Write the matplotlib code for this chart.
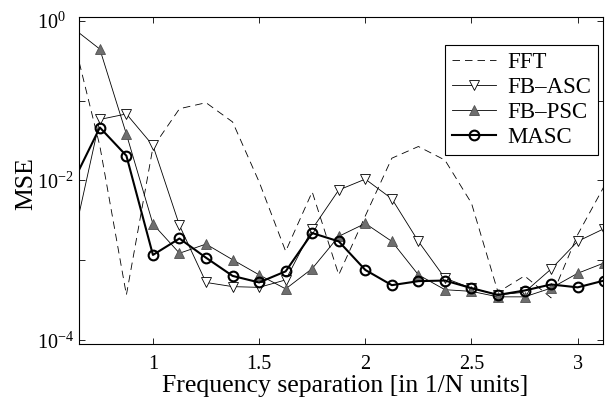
import numpy as np
import matplotlib.pyplot as plt

plt.rcParams['font.family'] = ['Liberation Serif', 'DejaVu Serif']
plt.rcParams['mathtext.fontset'] = 'custom'
plt.rcParams['mathtext.rm'] = 'Liberation Serif'

# frequency separation (1/N units)
sep = [0.625, 0.75, 0.875, 1.0, 1.125, 1.25, 1.375, 1.5, 1.625, 1.75, 1.875,
       2.0, 2.125, 2.25, 2.375, 2.5, 2.625, 2.75, 2.875, 3.0, 3.125]

mse_fft = [0.6, 0.027, 0.00037, 0.026, 0.079, 0.094, 0.054, 0.0096, 0.0013,
           0.0072, 0.00066, 0.0036, 0.019, 0.0266, 0.018, 0.0052, 0.0004,
           0.00064, 0.00034, 0.0021, 0.0085]
mse_asc = [0.0018, 0.058, 0.068, 0.0274, 0.00274, 0.00053, 0.00047, 0.00046,
           0.00057, 0.00247, 0.0076, 0.0104, 0.0059, 0.00173, 0.0006, 0.00045,
           0.00037, 0.0004, 0.00078, 0.00173, 0.0025]
mse_psc = [0.8, 0.44, 0.038, 0.00285, 0.00123, 0.0016, 0.00102, 0.00066,
           0.00044, 0.00079, 0.002, 0.0029, 0.00173, 0.00066, 0.00043, 0.00041,
           0.00035, 0.00035, 0.00045, 0.00069, 0.00093]
mse_masc = [0.0097, 0.046, 0.0204, 0.00117, 0.00188, 0.00108, 0.00064, 0.00053,
            0.00073, 0.0022, 0.00173, 0.00076, 0.00049, 0.00055, 0.00056,
            0.00045, 0.00037, 0.00042, 0.0005, 0.00046, 0.00056]

fig = plt.figure(figsize=(6.08, 3.98), dpi=100)
ax = fig.add_axes([0.13, 0.1357, 0.862, 0.8208])

ax.plot(sep, mse_fft, color='k', lw=0.6, linestyle=(0, (9, 6)), label='FFT')
ax.plot(sep, mse_asc, color='k', lw=0.6, marker='v', ms=7, mfc='white',
        mec='k', mew=0.6, label='FB\u2013ASC')
ax.plot(sep, mse_psc, color='k', lw=0.6, marker='^', ms=7, mfc='#6e6e6e',
        mec='#505050', mew=0.6, label='FB\u2013PSC')
ax.plot(sep, mse_masc, color='k', lw=1.5, marker='o', ms=7, mfc='none',
        mec='k', mew=1.5, label='MASC')

ax.set_yscale('log')
ax.set_xlim(0.652, 3.12)
ax.set_ylim(9e-5, 1.1)
ax.set_xticks([1, 1.5, 2, 2.5, 3])
ax.set_xticklabels(['1', '1.5', '2', '2.5', '3'])
ax.set_yticks([1e-4, 1e-3, 1e-2, 1e-1, 1e0])
ax.set_yticklabels([r'$10^{-4}$', '', r'$10^{-2}$', '', r'$10^{0}$'])
ax.yaxis.set_minor_locator(plt.NullLocator())
ax.tick_params(direction='in', top=True, right=True, labelsize=14.5,
               length=4, width=0.6)
ax.tick_params(axis='x', pad=8)
# MATLAB style: the "10" of every label starts at the same x
ax.tick_params(axis='y', pad=30)
for lab in ax.get_yticklabels():
    lab.set_horizontalalignment('left')
for s in ax.spines.values():
    s.set_linewidth(0.8)

ax.set_xlabel('Frequency separation [in 1/N units]', fontsize=18.5)
ax.xaxis.set_label_coords(0.508, -0.095)
ax.set_ylabel('MSE', fontsize=18.5)
ax.yaxis.set_label_coords(-0.08, 0.49)

leg = ax.legend(loc='upper right', bbox_to_anchor=(0.99, 0.915), fontsize=16.5,
                handlelength=1.9, handletextpad=0.5, borderpad=0.3,
                labelspacing=0.17, borderaxespad=0, fancybox=False,
                framealpha=1)
leg.get_frame().set_edgecolor('k')
leg.get_frame().set_linewidth(0.8)

fig.savefig('out.png', dpi=100)
